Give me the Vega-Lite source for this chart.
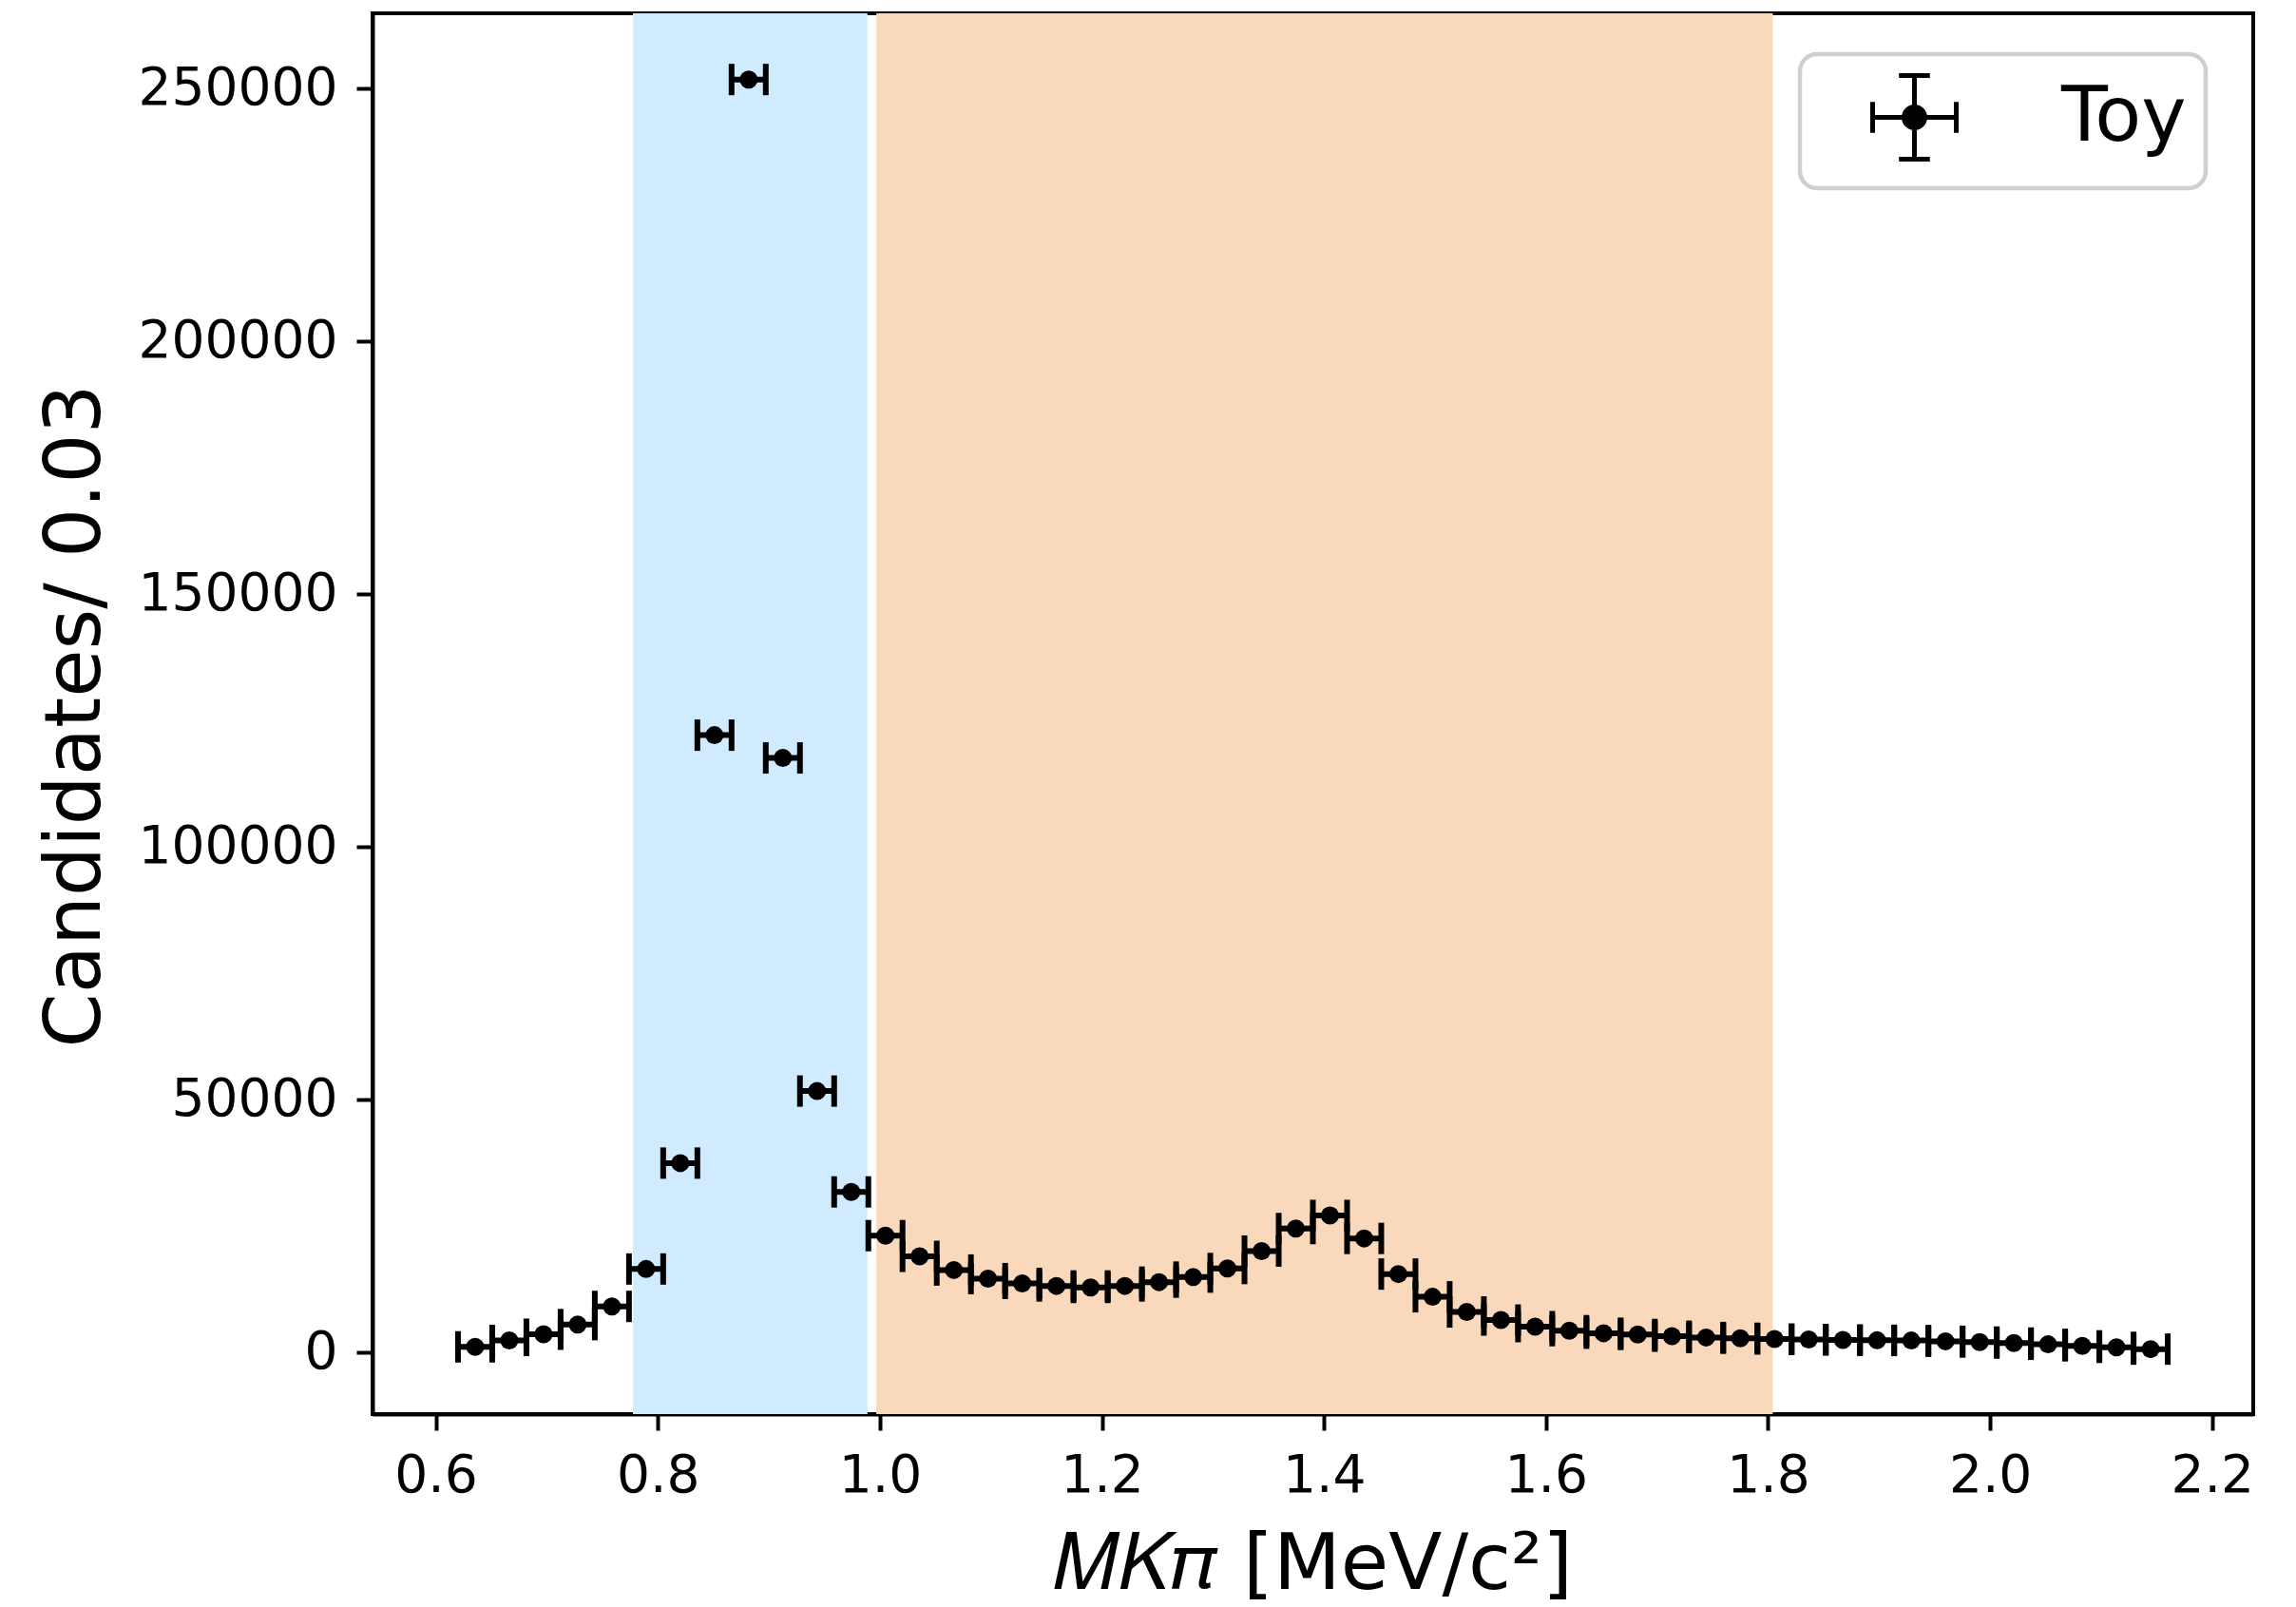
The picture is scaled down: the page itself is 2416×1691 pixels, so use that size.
{
  "$schema": "https://vega.github.io/schema/vega-lite/v6.json",
  "width": 1979,
  "height": 1474,
  "autosize": {"type": "none"},
  "padding": {"left": 392, "top": 14, "right": 45, "bottom": 203},
  "background": "white",
  "config": {
    "font": "DejaVu Sans",
    "view": {"stroke": "black", "strokeWidth": 4},
    "axis": {
      "grid": false,
      "domain": true,
      "domainColor": "black",
      "domainWidth": 4,
      "zindex": 1,
      "tickColor": "black",
      "tickWidth": 4,
      "tickSize": 17,
      "labelColor": "black",
      "labelFont": "DejaVu Sans",
      "labelFontSize": 55,
      "labelLimit": 500,
      "titleColor": "black",
      "titleFont": "DejaVu Sans",
      "titleFontSize": 82,
      "titleFontWeight": "normal",
      "titleLimit": 2000
    }
  },
  "data": {
    "values": [
      {"lo": 0.6200, "mid": 0.6354, "hi": 0.6508, "n": 1000},
      {"lo": 0.6508, "mid": 0.6662, "hi": 0.6816, "n": 2260},
      {"lo": 0.6816, "mid": 0.6970, "hi": 0.7124, "n": 3500},
      {"lo": 0.7124, "mid": 0.7278, "hi": 0.7432, "n": 5400},
      {"lo": 0.7432, "mid": 0.7586, "hi": 0.7740, "n": 9000},
      {"lo": 0.7740, "mid": 0.7894, "hi": 0.8048, "n": 16400},
      {"lo": 0.8048, "mid": 0.8202, "hi": 0.8356, "n": 37350},
      {"lo": 0.8356, "mid": 0.8510, "hi": 0.8664, "n": 122000},
      {"lo": 0.8664, "mid": 0.8818, "hi": 0.8972, "n": 251700},
      {"lo": 0.8972, "mid": 0.9126, "hi": 0.9280, "n": 117500},
      {"lo": 0.9280, "mid": 0.9434, "hi": 0.9588, "n": 51600},
      {"lo": 0.9588, "mid": 0.9742, "hi": 0.9896, "n": 31650},
      {"lo": 0.9896, "mid": 1.0050, "hi": 1.0204, "n": 23000},
      {"lo": 1.0204, "mid": 1.0358, "hi": 1.0512, "n": 18900},
      {"lo": 1.0512, "mid": 1.0666, "hi": 1.0820, "n": 16200},
      {"lo": 1.0820, "mid": 1.0974, "hi": 1.1128, "n": 14500},
      {"lo": 1.1128, "mid": 1.1282, "hi": 1.1436, "n": 13550},
      {"lo": 1.1436, "mid": 1.1590, "hi": 1.1744, "n": 13050},
      {"lo": 1.1744, "mid": 1.1898, "hi": 1.2052, "n": 12750},
      {"lo": 1.2052, "mid": 1.2206, "hi": 1.2360, "n": 13050},
      {"lo": 1.2360, "mid": 1.2514, "hi": 1.2668, "n": 13800},
      {"lo": 1.2668, "mid": 1.2822, "hi": 1.2976, "n": 14800},
      {"lo": 1.2976, "mid": 1.3130, "hi": 1.3284, "n": 16500},
      {"lo": 1.3284, "mid": 1.3438, "hi": 1.3592, "n": 19950},
      {"lo": 1.3592, "mid": 1.3746, "hi": 1.3900, "n": 24400},
      {"lo": 1.3900, "mid": 1.4054, "hi": 1.4208, "n": 27000},
      {"lo": 1.4208, "mid": 1.4362, "hi": 1.4516, "n": 22450},
      {"lo": 1.4516, "mid": 1.4670, "hi": 1.4824, "n": 15400},
      {"lo": 1.4824, "mid": 1.4978, "hi": 1.5132, "n": 10900},
      {"lo": 1.5132, "mid": 1.5286, "hi": 1.5440, "n": 7900},
      {"lo": 1.5440, "mid": 1.5594, "hi": 1.5748, "n": 6300},
      {"lo": 1.5748, "mid": 1.5902, "hi": 1.6056, "n": 5000},
      {"lo": 1.6056, "mid": 1.6210, "hi": 1.6364, "n": 4200},
      {"lo": 1.6364, "mid": 1.6518, "hi": 1.6672, "n": 3700},
      {"lo": 1.6672, "mid": 1.6826, "hi": 1.6980, "n": 3450},
      {"lo": 1.6980, "mid": 1.7134, "hi": 1.7288, "n": 3100},
      {"lo": 1.7288, "mid": 1.7442, "hi": 1.7596, "n": 2850},
      {"lo": 1.7596, "mid": 1.7750, "hi": 1.7904, "n": 2700},
      {"lo": 1.7904, "mid": 1.8058, "hi": 1.8212, "n": 2550},
      {"lo": 1.8212, "mid": 1.8366, "hi": 1.8520, "n": 2450},
      {"lo": 1.8520, "mid": 1.8674, "hi": 1.8828, "n": 2350},
      {"lo": 1.8828, "mid": 1.8982, "hi": 1.9136, "n": 2300},
      {"lo": 1.9136, "mid": 1.9290, "hi": 1.9444, "n": 2250},
      {"lo": 1.9444, "mid": 1.9598, "hi": 1.9752, "n": 2100},
      {"lo": 1.9752, "mid": 1.9906, "hi": 2.0060, "n": 1950},
      {"lo": 2.0060, "mid": 2.0214, "hi": 2.0368, "n": 1750},
      {"lo": 2.0368, "mid": 2.0522, "hi": 2.0676, "n": 1500},
      {"lo": 2.0676, "mid": 2.0830, "hi": 2.0984, "n": 1200},
      {"lo": 2.0984, "mid": 2.1138, "hi": 2.1292, "n": 900},
      {"lo": 2.1292, "mid": 2.1446, "hi": 2.1600, "n": 550}
    ]
  },
  "layer": [
    {
      "data": {
        "values": [
          {"window": "low", "start": 0.7776, "end": 0.9888},
          {"window": "high", "start": 0.9968, "end": 1.8042}
        ]
      },
      "mark": {"type": "rect"},
      "encoding": {
        "x": {
          "field": "start",
          "type": "quantitative",
          "scale": {"domain": [0.543, 2.237], "nice": false, "zero": false},
          "axis": {
            "values": [0.6, 0.8, 1.0, 1.2, 1.4, 1.6, 1.8, 2.0, 2.2],
            "format": ".1f",
            "labelPadding": 21,
            "titlePadding": 26
          },
          "title": "𝑀𝐾𝜋 [MeV/c²]"
        },
        "x2": {"field": "end"},
        "fill": {
          "field": "window",
          "type": "nominal",
          "scale": {"domain": ["low", "high"], "range": ["#cfebfd", "#fad8bb"]},
          "legend": null
        }
      }
    },
    {
      "mark": {"type": "rule", "color": "black", "strokeWidth": 6, "opacity": 1},
      "encoding": {
        "x": {"field": "lo", "type": "quantitative"},
        "x2": {"field": "hi"},
        "y": {
          "field": "n",
          "type": "quantitative",
          "scale": {"domain": [-12300, 264800], "nice": false, "zero": false},
          "axis": {
            "values": [0, 50000, 100000, 150000, 200000, 250000],
            "format": "d",
            "labelPadding": 20,
            "titleAngle": 270,
            "titleBaseline": "alphabetic",
            "titleAlign": "center",
            "titleX": -288,
            "titleY": 739
          },
          "title": "Candidates/ 0.03"
        }
      }
    },
    {
      "mark": {"type": "tick", "orient": "vertical", "color": "black", "opacity": 1, "size": 33, "thickness": 6},
      "encoding": {
        "x": {"field": "lo", "type": "quantitative"},
        "y": {"field": "n", "type": "quantitative"}
      }
    },
    {
      "mark": {"type": "tick", "orient": "vertical", "color": "black", "opacity": 1, "size": 33, "thickness": 6},
      "encoding": {
        "x": {"field": "hi", "type": "quantitative"},
        "y": {"field": "n", "type": "quantitative"}
      }
    },
    {
      "mark": {"type": "point", "filled": true, "size": 360, "opacity": 1},
      "encoding": {
        "x": {"field": "mid", "type": "quantitative"},
        "y": {"field": "n", "type": "quantitative"},
        "color": {
          "datum": "Toy",
          "type": "nominal",
          "scale": {"range": ["black"]},
          "legend": {
            "title": null,
            "orient": "none",
            "legendX": 1502,
            "legendY": 43,
            "padding": 20,
            "fillColor": "white",
            "strokeColor": "#cfcfcf",
            "cornerRadius": 18,
            "labelFont": "DejaVu Sans",
            "labelFontSize": 80,
            "labelColor": "black",
            "labelOffset": 108,
            "symbolOffset": 54,
            "symbolSize": 7744,
            "symbolStrokeWidth": 5,
            "symbolStrokeColor": "black",
            "symbolFillColor": "black",
            "symbolOpacity": 1,
            "symbolType": "M-1,0H1M-1,-0.37V0.37M1,-0.37V0.37M0,-1V1M-0.37,-1H0.37M-0.37,1H0.37M0.25,0A0.25,0.25,0,1,1,-0.25,0A0.25,0.25,0,1,1,0.25,0Z",
            "encode": {
              "legend": {
                "update": {
                  "strokeWidth": {"value": 4.5}
                }
              },
              "symbols": {
                "update": {
                  "shape": {"value": "M-1,0H1M-1,-0.37V0.37M1,-0.37V0.37M0,-1V1M-0.37,-1H0.37M-0.37,1H0.37M0.25,0A0.25,0.25,0,1,1,-0.25,0A0.25,0.25,0,1,1,0.25,0Z"},
                  "fill": {"value": "black"},
                  "stroke": {"value": "black"},
                  "strokeOpacity": {"value": 1},
                  "strokeWidth": {"value": 5},
                  "size": {"value": 7744},
                  "opacity": {"value": 1}
                }
              }
            }
          }
        }
      }
    }
  ]
}
